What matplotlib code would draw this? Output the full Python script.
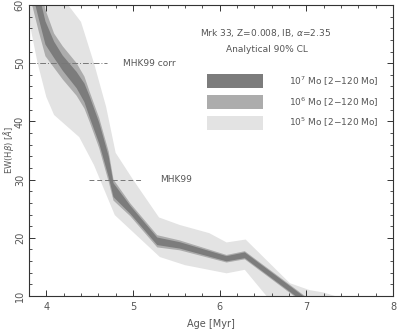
import numpy as np
import matplotlib.pyplot as plt
from matplotlib.patches import Rectangle

# 10^5 Mo band (light), upper and lower edges
light_up_x = [4.20, 4.40, 4.55, 4.69, 4.80, 5.00, 5.30, 5.54, 5.88, 6.08, 6.30, 6.81, 7.04, 7.20, 7.33, 7.40]
light_up_y = [61.0, 57.1, 50.0, 42.5, 34.6, 30.0, 23.5, 22.2, 20.8, 19.2, 19.7, 12.2, 11.0, 10.6, 10.0, 9.0]
light_lo_x = [3.75, 3.80, 3.90, 4.00, 4.09, 4.38, 4.55, 4.79, 5.31, 5.60, 6.08, 6.29, 6.54, 6.60]
light_lo_y = [59.5, 57.4, 50.0, 44.2, 41.1, 37.3, 32.5, 23.9, 16.7, 15.3, 13.9, 14.5, 10.0, 9.0]

# 10^6 and 10^7 Mo bands share the same age grid
age = [3.80, 3.85, 3.91, 3.99, 4.09, 4.19, 4.35, 4.44, 4.50, 4.61, 4.72, 4.775, 4.97, 5.28, 5.54, 6.08, 6.29, 6.92, 7.00]
mid_hi = [71.0, 68.0, 64.4, 59.2, 55.1, 52.9, 50.0, 47.7, 45.1, 40.6, 34.8, 30.0, 25.9, 20.45, 19.55, 17.05, 17.7, 10.7, 9.8]
mid_lo = [62.2, 59.2, 55.6, 51.2, 49.2, 47.2, 44.4, 42.2, 39.9, 35.4, 29.6, 26.4, 23.7, 18.35, 17.85, 15.75, 16.3, 9.3, 8.4]
dark_hi = [68.8, 65.8, 62.2, 57.2, 53.7, 51.3, 48.5, 46.5, 44.3, 39.8, 34.0, 29.4, 25.5, 20.05, 19.25, 16.85, 17.5, 10.5, 9.6]
dark_lo = [64.4, 61.4, 57.8, 53.2, 50.9, 48.7, 45.7, 43.3, 40.7, 36.2, 30.4, 27.0, 24.1, 18.75, 18.15, 15.95, 16.5, 9.5, 8.6]

labels = ["10$^7$ Mo [2$-$120 Mo]", "10$^6$ Mo [2$-$120 Mo]", "10$^5$ Mo [2$-$120 Mo]"]
colors = ["#7c7c7c", "#acacac", "#e3e3e3"]

# reference values
mhk_corr = 50.0
mhk = 30.0

tc = "#555555"
plt.rcParams["font.family"] = ["DejaVu Sans"]

fig = plt.figure(figsize=(3.97, 3.29), dpi=100)
ax = fig.add_axes([0.073, 0.1003, 0.917, 0.8845])

ax.fill(light_up_x + light_lo_x[::-1], light_up_y + light_lo_y[::-1], color=colors[2], lw=0, zorder=1)
ax.fill_between(age, mid_lo, mid_hi, color=colors[1], lw=0, zorder=1.5)
ax.fill_between(age, dark_lo, dark_hi, color=colors[0], lw=0, zorder=2)

ax.plot([3.8, 4.70], [mhk_corr, mhk_corr], ls=(0, (6, 2, 1, 2)), color="#777777", lw=0.7, zorder=3)
ax.text(4.88, mhk_corr, "MHK99 corr", fontsize=6.5, color=tc, va="center")
ax.plot([4.49, 5.11], [mhk, mhk], ls=(0, (5, 3)), color="#777777", lw=0.7, zorder=3)
ax.text(5.31, mhk, "MHK99", fontsize=6.5, color=tc, va="center")

ax.text(6.53, 55.2, r"Mrk 33, Z=0.008, IB, $\alpha$=2.35", fontsize=6.5, color=tc, ha="center", va="center")
ax.text(6.54, 52.3, "Analytical 90% CL", fontsize=6.5, color=tc, ha="center", va="center")

# legend keys
key_y = [46.9, 43.3, 39.8]
for col, lab, ky in zip(colors, labels, key_y):
    ax.add_patch(Rectangle((5.85, ky - 1.2), 0.65, 2.4, color=col, lw=0, zorder=2))
    ax.text(6.80, ky, lab, fontsize=6.5, color=tc, va="center")

ax.set_xlim(3.8, 8)
ax.set_ylim(10, 60)
ax.set_xticks([4, 5, 6, 7, 8])
ax.set_yticks([10, 20, 30, 40, 50, 60])
ax.set_xticks(np.arange(3.8, 8.01, 0.2), minor=True)
ax.set_yticks(np.arange(10, 60.1, 2), minor=True)
ax.tick_params(which="both", direction="in", top=True, right=True, colors="#333333", labelcolor=tc, labelsize=7)
ax.tick_params(which="major", length=4, width=0.7)
ax.tick_params(which="minor", length=2, width=0.6)
ax.tick_params(axis="x", pad=4)
ax.tick_params(axis="y", pad=3)
for lab in ax.get_yticklabels():
    lab.set_rotation(90)
    lab.set_va("center")
for sp in ax.spines.values():
    sp.set_linewidth(0.8)
    sp.set_color("#333333")
    sp.set_zorder(5)

ax.set_xlabel("Age [Myr]", fontsize=7, color=tc, labelpad=5)
ax.set_ylabel(r"EW(H$\beta$) [$\AA$]", fontsize=6, color=tc, va="center")
ax.yaxis.set_label_coords(-0.055, 0.5)

fig.savefig("out.png", dpi=100)
